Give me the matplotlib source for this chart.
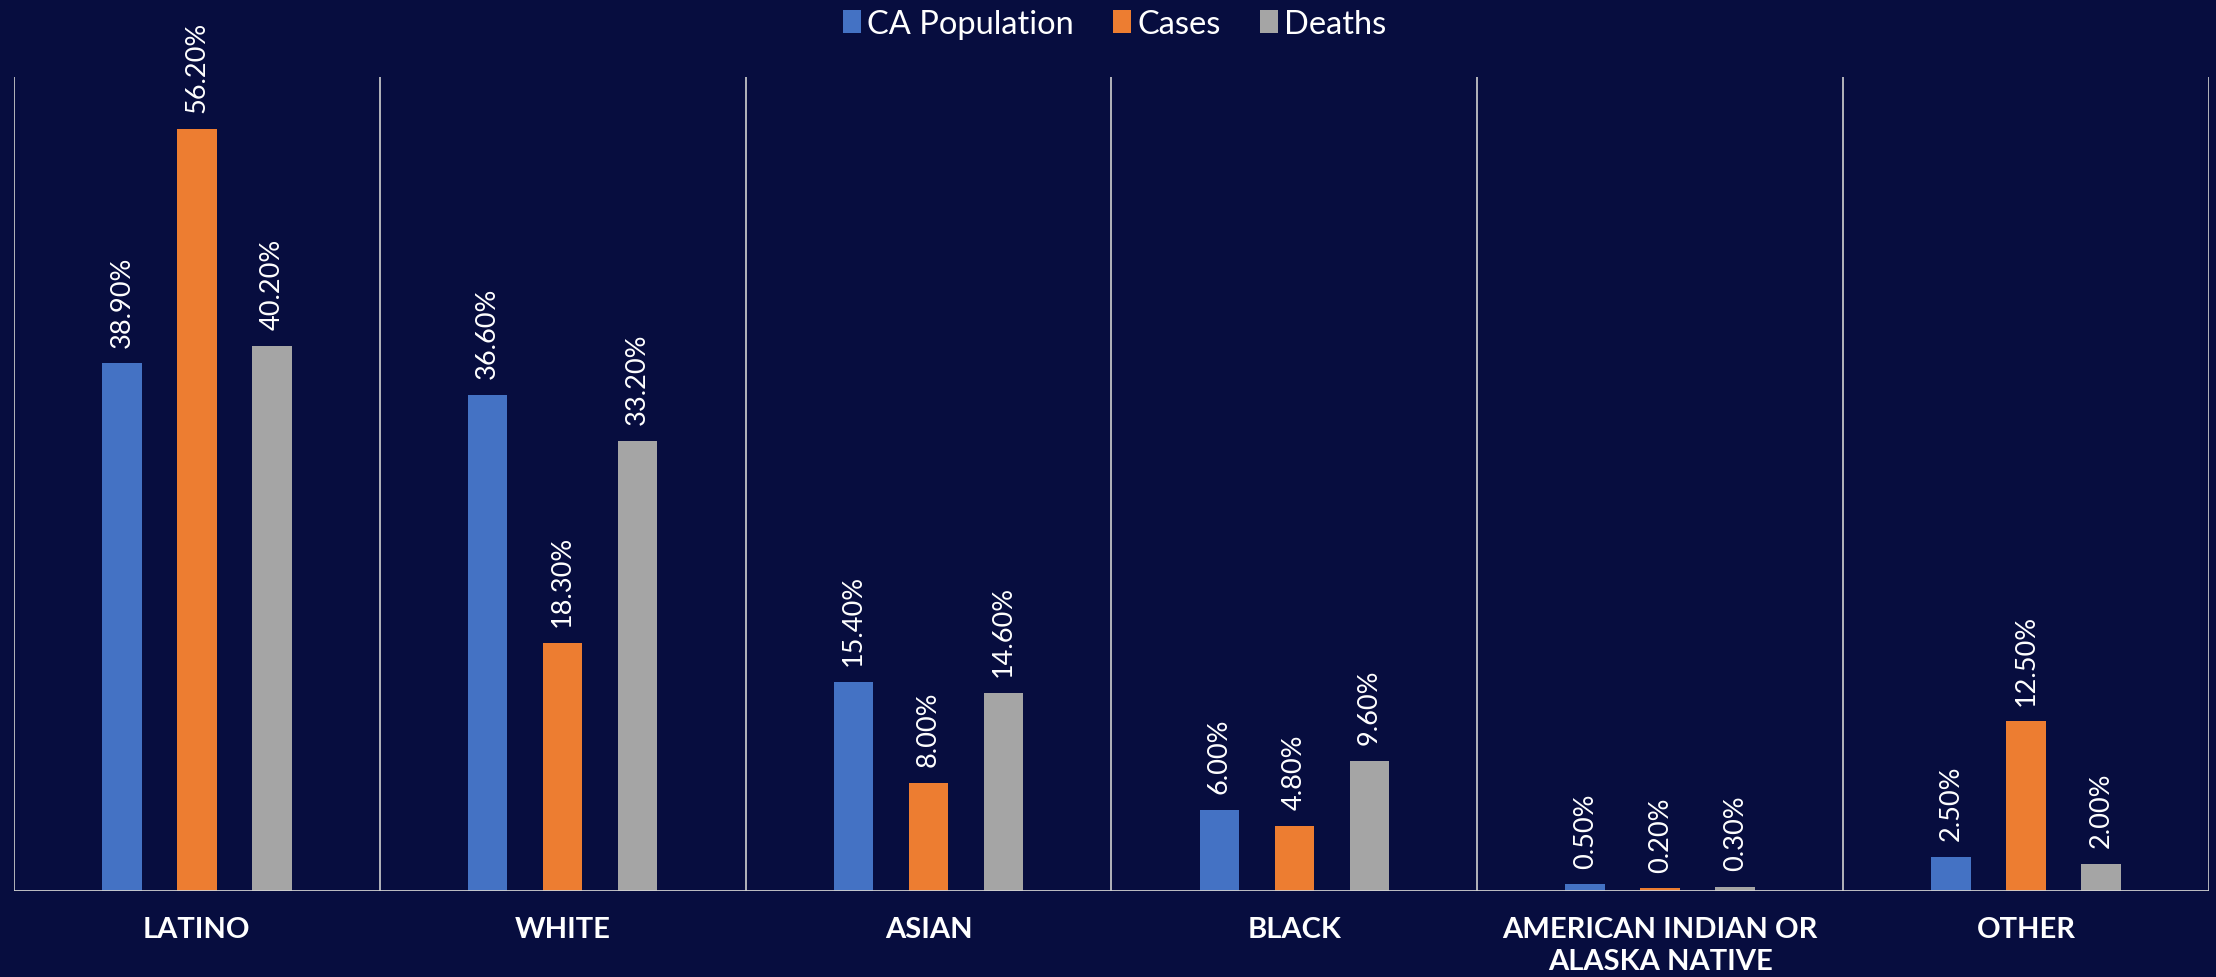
import matplotlib.pyplot as plt
import numpy as np

categories = ["LATINO", "WHITE", "ASIAN", "BLACK", "AMERICAN INDIAN OR\nALASKA NATIVE", "OTHER"]
ca_population = [38.9, 36.6, 15.4, 6.0, 0.5, 2.5]
cases = [56.2, 18.3, 8.0, 4.8, 0.2, 12.5]
deaths = [40.2, 33.2, 14.6, 9.6, 0.3, 2.0]

series_names = ["CA Population", "Cases", "Deaths"]
series_colors = ["#4472C4", "#ED7D31", "#A5A5A5"]
bg = "#070D3F"

fig = plt.figure(figsize=(22.16, 9.78), dpi=100, facecolor=bg)
ax = fig.add_axes([0.0063, 0.0879, 0.9905, 0.8323], facecolor=bg)

x = np.arange(len(categories))
width = 0.108
offset = 0.205

for i, (vals, name, col) in enumerate(zip([ca_population, cases, deaths], series_names, series_colors)):
    bars = ax.bar(x + (i - 1) * offset, vals, width, color=col, label=name, zorder=3)
    for b, v in zip(bars, vals):
        ax.annotate(f"{v:.2f}%", (b.get_x() + b.get_width() / 2, v),
                    xytext=(0, 12), textcoords="offset points",
                    rotation=90, ha="center", va="bottom",
                    color="white", fontsize=19.5, family="Lato", zorder=4)

ax.set_xlim(-0.5, len(categories) - 0.5)
ax.set_ylim(0, 60)

# vertical separators between categories
for k in range(len(categories) + 1):
    ax.axvline(k - 0.5, color="#D0D0D0", linewidth=1.2, zorder=1)
ax.axhline(0, color="#D0D0D0", linewidth=2, zorder=5)

for s in ax.spines.values():
    s.set_visible(False)
ax.set_yticks([])
ax.set_xticks(x)
ax.set_xticklabels(categories, color="white", fontsize=21, fontweight="bold",
                   family="Lato", linespacing=1.3)
ax.tick_params(axis="x", length=0, pad=18)
for lbl in ax.get_xticklabels():
    lbl.set_verticalalignment("top")

leg = fig.legend(loc="upper center", bbox_to_anchor=(0.503, 1.02), ncol=3,
                 frameon=False, handlelength=0.55, handleheight=0.7,
                 handletextpad=0.2, columnspacing=1.2,
                 prop={"family": "Lato", "size": 23.5})
for t in leg.get_texts():
    t.set_color("white")

fig.savefig("out.png", dpi=100, facecolor=bg)
